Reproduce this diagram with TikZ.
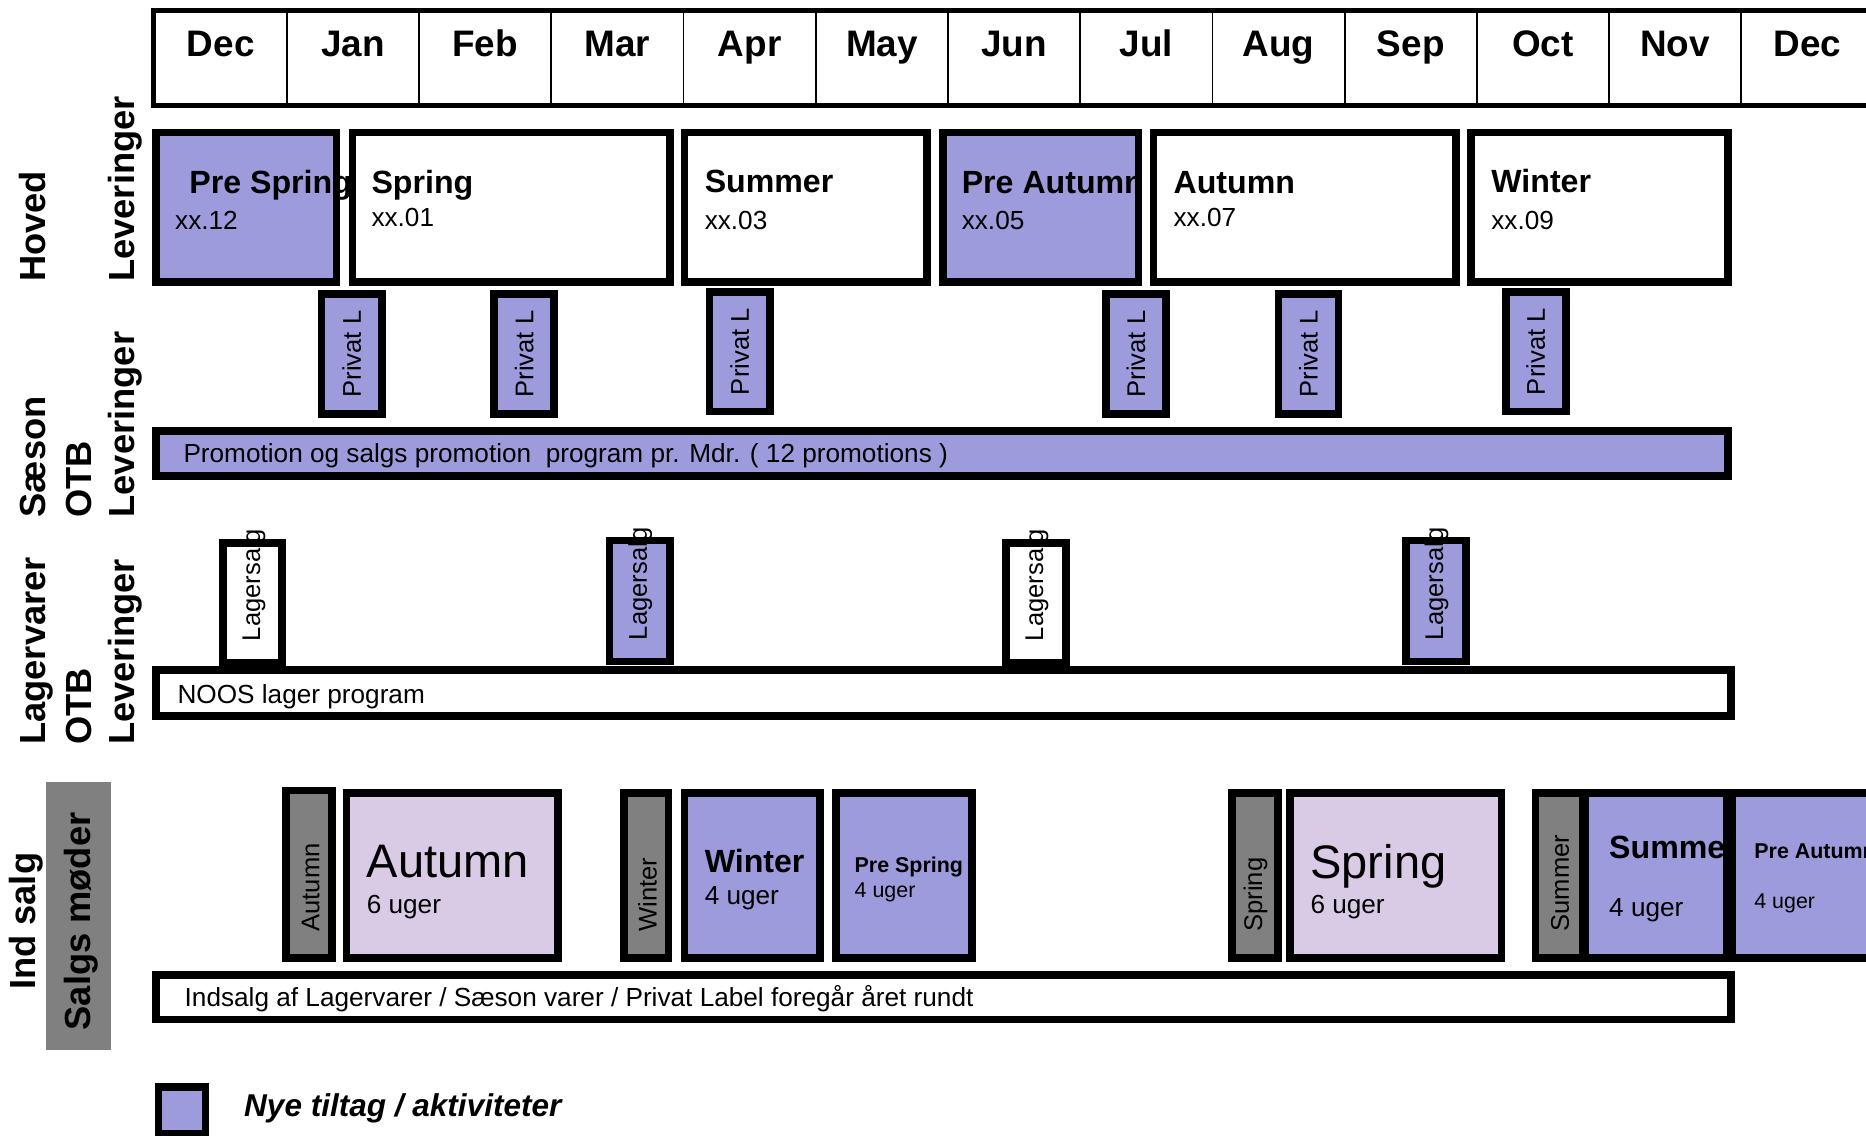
\documentclass[tikz,border=0pt]{standalone}
\usepackage{fontspec}
\setmainfont{Liberation Sans}
\definecolor{purp}{RGB}{157,155,220}
\definecolor{lav}{RGB}{217,203,230}
\definecolor{gry}{RGB}{128,128,128}
\newcommand\mybox[6]{%
 \pgfmathsetmacro\mbcx{(#3+#5)/2}%
 \pgfmathsetmacro\mbcy{(#4+#6)/2}%
 \pgfmathsetmacro\mbw{#5-#3-6.5}%
 \pgfmathsetmacro\mbh{#6-#4-6.5}%
 \node[bx,#2,minimum width=\mbw pt,minimum height=\mbh pt] (#1) at (\mbcx,\mbcy) {};}
\tikzset{
 bx/.style={draw=black, line width=6.5pt, inner sep=0pt, outer sep=0pt},
 cell/.style={draw=black, line width=1.5pt, inner sep=0pt, minimum width=111.1pt, minimum height=78.4pt},
 mon/.style={anchor=base, font=\fontsize{31}{36}\selectfont\bfseries, inner sep=0pt},
 ttl/.style={anchor=base west, font=\fontsize{27}{32}\selectfont\bfseries, inner sep=0pt},
 sttl/.style={anchor=base west, font=\fontsize{18}{22}\selectfont\bfseries, inner sep=0pt},
 big/.style={anchor=base west, font=\fontsize{39.5}{46}\selectfont, inner sep=0pt},
 sub/.style={anchor=base west, font=\fontsize{22}{26}\selectfont, inner sep=0pt},
 ssub/.style={anchor=base west, font=\fontsize{18}{22}\selectfont, inner sep=0pt},
 rowlab/.style={anchor=base west, rotate=90, font=\fontsize{30.5}{36}\selectfont\bfseries, inner sep=0pt},
 vlab/.style={anchor=west, rotate=90, font=\fontsize{21.5}{25}\selectfont, inner sep=0pt},
 bartext/.style={anchor=base west, font=\fontsize{22}{26}\selectfont, inner sep=0pt},
}
\begin{document}
\begin{tikzpicture}[x=1pt,y=-1pt]
\useasboundingbox (0,0) rectangle (1568,954);
\clip (0,0) rectangle (1568,954);
% header
\foreach \m [count=\i from 0] in {Dec,Jan,Feb,Mar,Apr,May,Jun,Jul,Aug,Sep,Oct,Nov,Dec}{
  \node[cell] (m\i) at ({130+111.1*(\i+0.5)},48.6) {};
  \node[mon] (ml\i) at ({130+111.1*(\i+0.5)},47.5) {\m};
}
\draw[line width=4.5pt] (m0.north west) rectangle (m12.south east);
% row labels
\node[rowlab] (lh) at (38,237) {Hoved};
\node[rowlab] (ll1) at (113,237) {Leveringer};
\node[rowlab] (lsa) at (38,435) {Sæson};
\node[rowlab] (lo1) at (77,435) {OTB};
\node[rowlab] (ll2) at (113,435) {Leveringer};
\node[rowlab] (llv) at (38,626) {Lagervarer};
\node[rowlab] (lo2) at (77,626) {OTB};
\node[rowlab] (ll3) at (113,626) {Leveringer};
\node[fill=gry, inner sep=0pt, minimum width=54pt, minimum height=225pt] (glab) at (66,769.5) {};
\node[rowlab] (lind) at (30,832) {Ind salg};
\node[rowlab] (lsm) at (76,866) {Salgs møder};
% row 1
\mybox{r1a}{fill=purp}{128}{108}{286}{240}
\mybox{r1b}{fill=white}{293}{108}{566}{240}
\mybox{r1c}{fill=white}{572}{108}{782}{240}
\mybox{r1d}{fill=purp}{789}{108}{960}{240}
\mybox{r1e}{fill=white}{966}{108}{1227}{240}
\mybox{r1f}{fill=white}{1233}{108}{1455}{240}
\node[ttl] (t1a) at (159,163) {Pre Spring};
\node[sub] (s1a) at (147,193) {xx.12};
\node[ttl] (t1b) at (312,163) {Spring};
\node[sub] (s1b) at (312,190) {xx.01};
\node[ttl] (t1c) at (592,162) {Summer};
\node[sub] (s1c) at (592,193) {xx.03};
\node[ttl] (t1d) at (808,163) {Pre Autumn};
\node[sub] (s1d) at (808,193) {xx.05};
\node[ttl] (t1e) at (986,163) {Autumn};
\node[sub] (s1e) at (986,190) {xx.07};
\node[ttl] (t1f) at (1253,162) {Winter};
\node[sub] (s1f) at (1253,193) {xx.09};
% privat label
\mybox{pl1}{fill=purp}{267}{244}{324}{351}
\mybox{pl2}{fill=purp}{412}{244}{469}{351}
\mybox{pl3}{fill=purp}{593}{242}{650}{349}
\mybox{pl4}{fill=purp}{926}{244}{983}{351}
\mybox{pl5}{fill=purp}{1071}{244}{1128}{351}
\mybox{pl6}{fill=purp}{1262}{242}{1319}{349}
\foreach \k in {1,...,6}{\node[vlab,anchor=center] (plt\k) at (pl\k) {Privat L};}
% promotion
\mybox{promo}{fill=purp}{128}{359}{1455}{403}
\node[bartext] (promot) at (154,389) {Promotion og salgs promotion\ \ program pr. Mdr. ( 12 promotions )};
% lagersalg
\mybox{noos}{fill=white}{128}{560}{1458}{605}
\mybox{ls1}{fill=white}{184}{453}{240}{560}
\mybox{ls2}{fill=purp}{509}{451}{566}{559}
\mybox{ls3}{fill=white}{842}{453}{899}{560}
\mybox{ls4}{fill=purp}{1178}{451}{1235}{559}
\node[vlab] (lst1) at (213,539) {Lagersalg};
\node[vlab] (lst2) at (538,538) {Lagersalg};
\node[vlab] (lst3) at (871,539) {Lagersalg};
\node[vlab] (lst4) at (1207,538) {Lagersalg};
\node[bartext] (noost) at (149,591) {NOOS lager program};
% salgs moder row
\mybox{ga}{fill=gry}{237}{661}{282}{808}
\mybox{la}{fill=lav}{288}{663}{472}{808}
\mybox{gw}{fill=gry}{521}{663}{565}{808}
\mybox{pw}{fill=purp}{572}{663}{692}{808}
\mybox{pps}{fill=purp}{699}{663}{820}{808}
\mybox{gs}{fill=gry}{1032}{663}{1077}{808}
\mybox{lsp}{fill=lav}{1081}{663}{1265}{808}
\mybox{gsu}{fill=gry}{1287}{663}{1333}{808}
\mybox{psu}{fill=purp}{1329}{663}{1454}{808}
\node[vlab] (gat) at (261,783) {Autumn};
\node[vlab] (gwt) at (544,783) {Winter};
\node[vlab] (gst) at (1055,783) {Spring};
\node[vlab] (gsut) at (1311,783) {Summer};
\node[big] (lat) at (308,737) {Autumn};
\node[sub] (las) at (308,768) {6 uger};
\node[ttl] (pwt) at (592,733) {Winter};
\node[sub] (pws) at (592,760) {4 uger};
\node[sttl] (ppst) at (718,733) {Pre Spring};
\node[ssub] (ppss) at (718,754) {4 uger};
\node[big] (lspt) at (1101,738) {Spring};
\node[sub] (lsps) at (1101,768) {6 uger};
\node[ttl] (psut) at (1352,721) {Summer};
\node[sub] (psus) at (1352,770) {4 uger};
\mybox{ppa}{fill=purp}{1452}{663}{1620}{808}
\node[sttl] (ppat) at (1474,721) {Pre Autumn};
\node[ssub] (ppas) at (1474,763) {4 uger};
% indsalg bar
\mybox{ind}{fill=white}{128}{816}{1458}{860}
\node[bartext] (indt) at (155,846) {Indsalg af Lagervarer / Sæson varer / Privat Label foregår året rundt};
% legend
\mybox{leg}{fill=purp}{130}{910}{176}{956}
\node[anchor=base west, inner sep=0pt, font=\fontsize{26.5}{31}\selectfont\bfseries\itshape] (legt) at (205,938) {Nye tiltag / aktiviteter};
\end{tikzpicture}
\end{document}
